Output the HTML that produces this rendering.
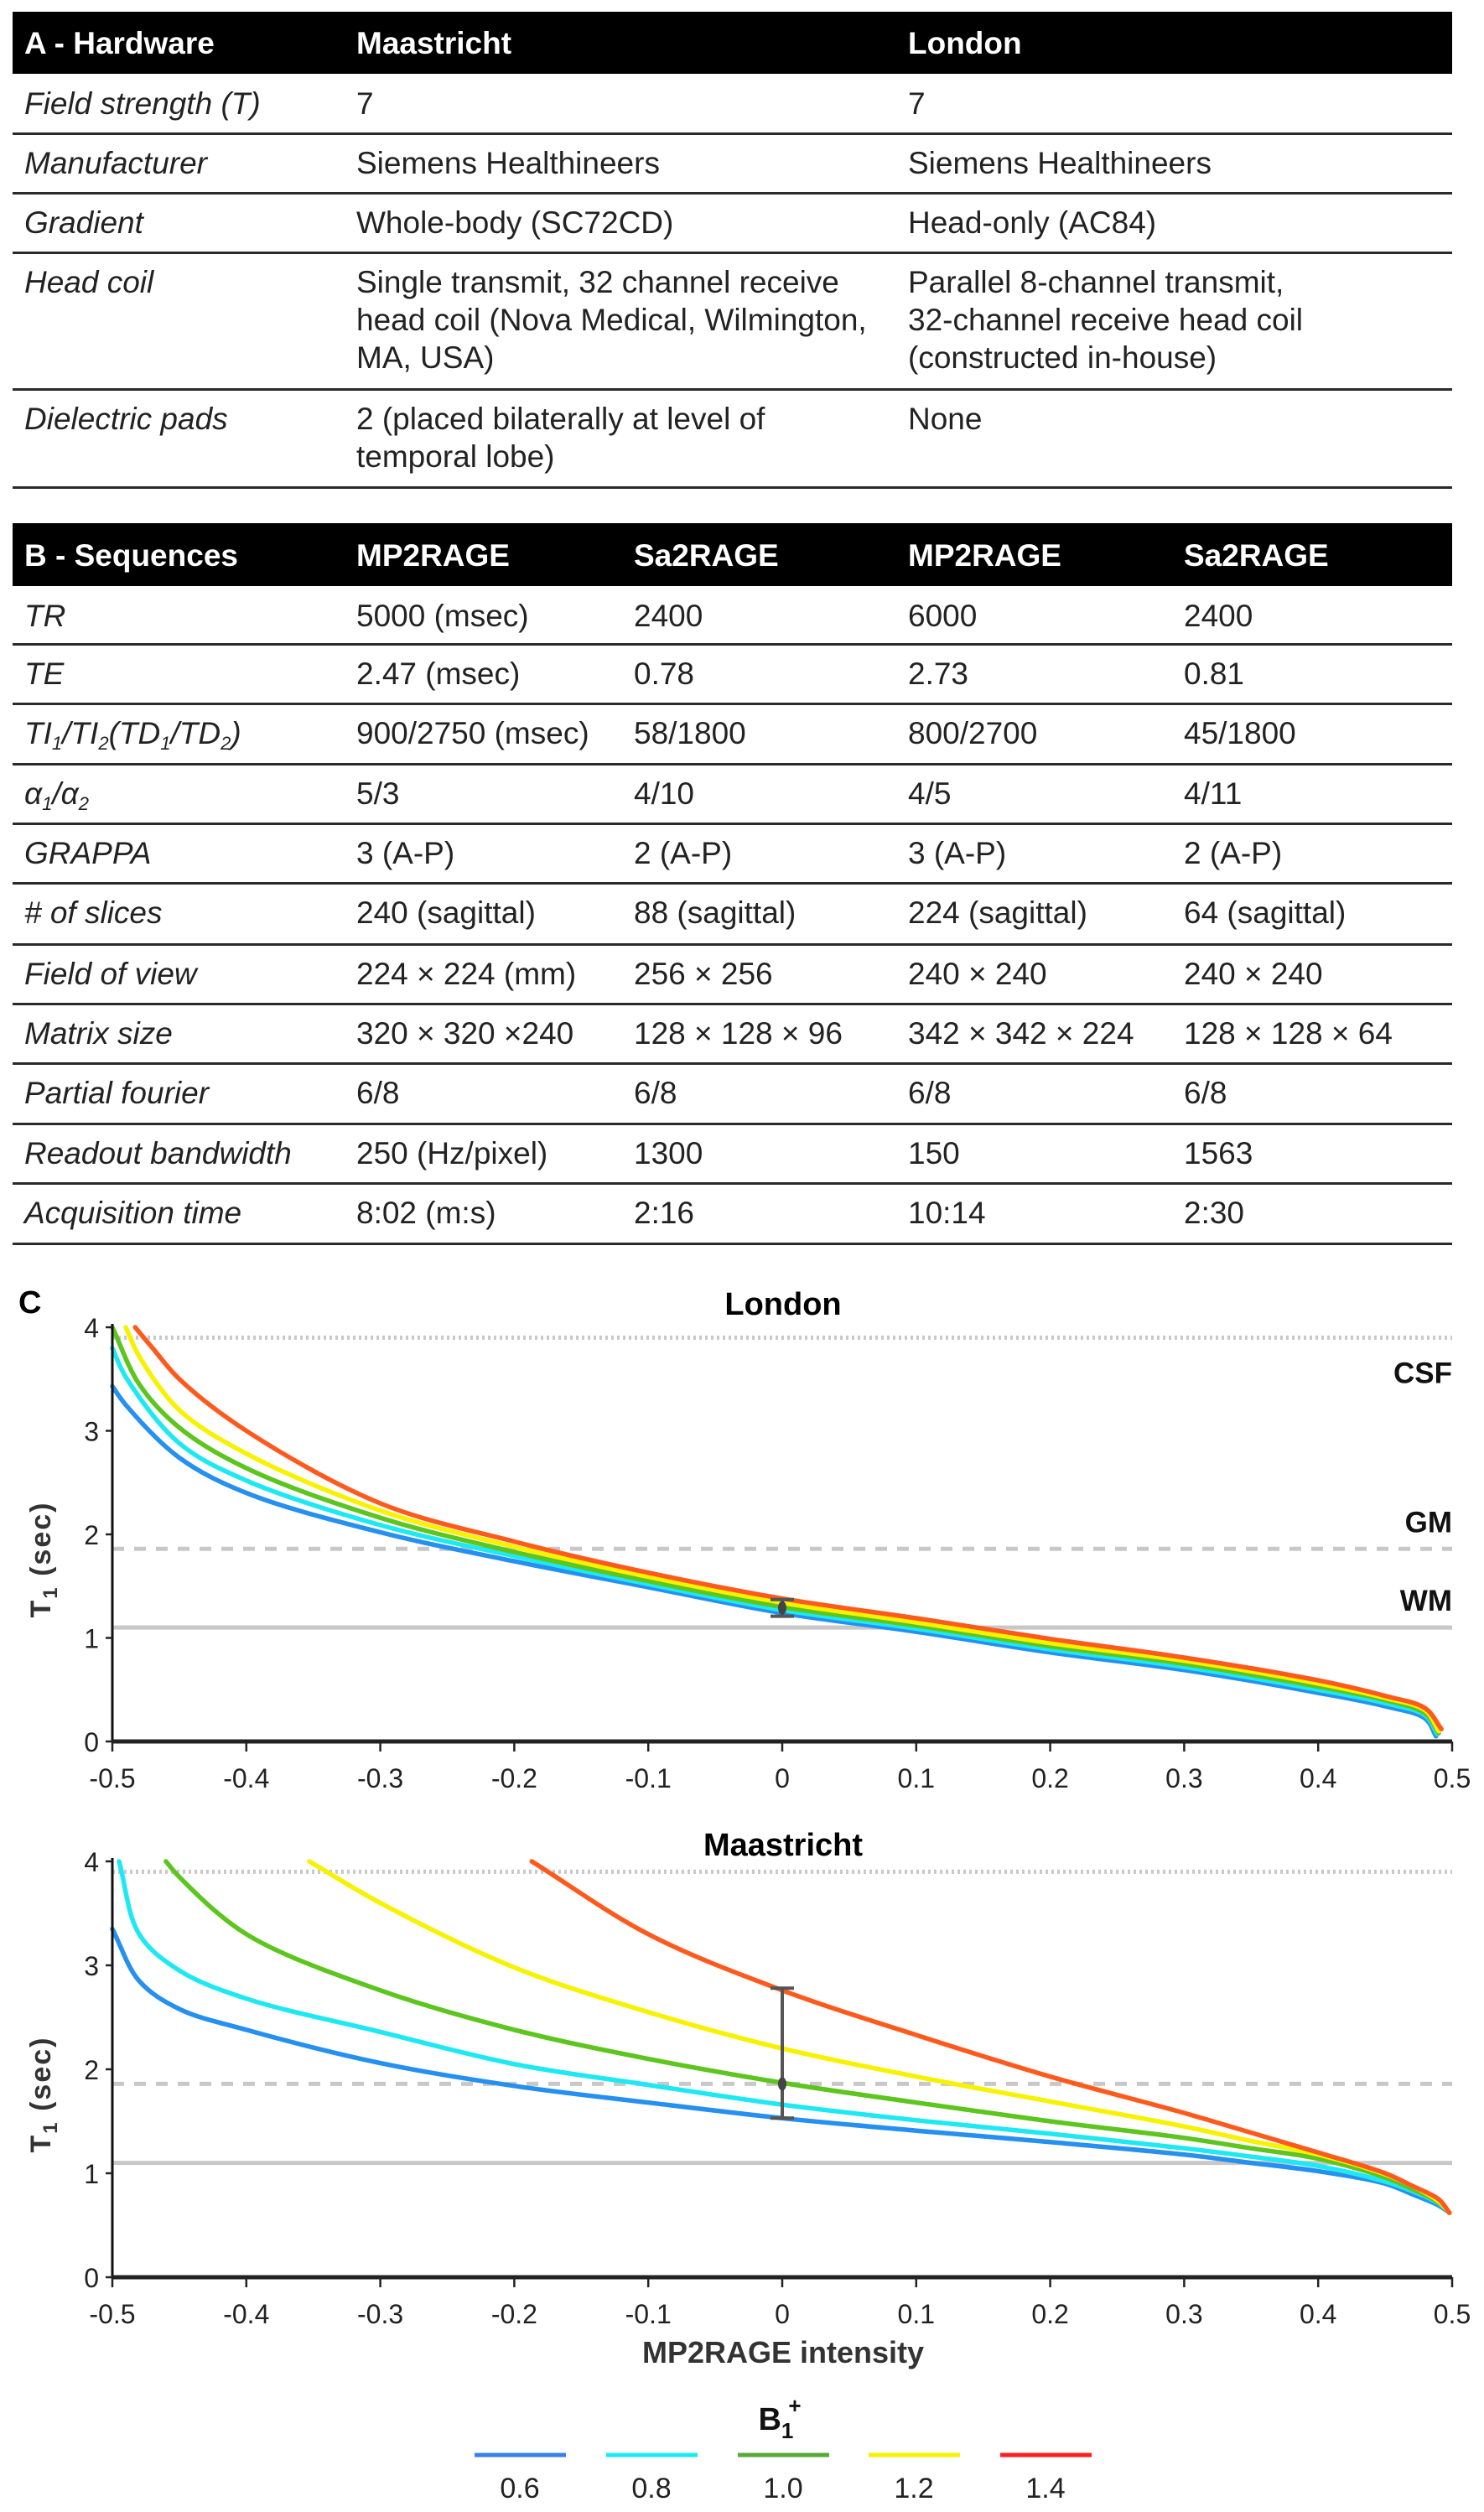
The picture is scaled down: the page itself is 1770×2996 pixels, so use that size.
<!DOCTYPE html>
<html><head><meta charset="utf-8">
<style>
body{margin:0;width:1770px;height:2996px;background:#fff;position:relative;overflow:hidden;font-family:"Liberation Sans",Arial,sans-serif;color:#222}
.hdr{position:absolute;left:15px;width:1717px;background:#000;color:#fff;font-weight:bold;font-size:37px}
.row{position:absolute;left:15px;width:1717px;border-bottom:3px solid #2a2a2a;box-sizing:border-box;font-size:37px;line-height:45px}
.c{position:absolute;white-space:nowrap}
.lab{font-style:italic}
sub{font-size:22px;vertical-align:-7px;line-height:0}
svg{position:absolute;left:0;top:0}
</style></head><body>
<div id="tables"></div>
<svg id="chart" width="1770" height="2996"></svg>
<script>
// ---------- table data ----------
const colsA=[14,410,1068];
const headA=["A - Hardware","Maastricht","London"];
const rowsA=[
 ["Field strength (T)","7","7"],
 ["Manufacturer","Siemens Healthineers","Siemens Healthineers"],
 ["Gradient","Whole-body (SC72CD)","Head-only (AC84)"],
 ["Head coil","Single transmit, 32 channel receive<br>head coil (Nova Medical, Wilmington,<br>MA, USA)","Parallel 8-channel transmit,<br>32-channel receive head coil<br>(constructed in-house)"],
 ["Dielectric pads","2 (placed bilaterally at level of<br>temporal lobe)","None"]];
const rowTopsA=[88,159,230,301,464];
const rowBotA=[159,230,301,464,581];
const colsB=[14,410,741,1068,1397];
const headB=["B - Sequences","MP2RAGE","Sa2RAGE","MP2RAGE","Sa2RAGE"];
const rowsB=[
 ["TR","5000 (msec)","2400","6000","2400"],
 ["TE","2.47 (msec)","0.78","2.73","0.81"],
 ["TI<sub>1</sub>/TI<sub>2</sub>(TD<sub>1</sub>/TD<sub>2</sub>)","900/2750 (msec)","58/1800","800/2700","45/1800"],
 ["α<sub>1</sub>/α<sub>2</sub>","5/3","4/10","4/5","4/11"],
 ["GRAPPA","3 (A-P)","2 (A-P)","3 (A-P)","2 (A-P)"],
 ["# of slices","240 (sagittal)","88 (sagittal)","224 (sagittal)","64 (sagittal)"],
 ["Field of view","224 × 224 (mm)","256 × 256","240 × 240","240 × 240"],
 ["Matrix size","320 × 320 ×240","128 × 128 × 96","342 × 342 × 224","128 × 128 × 64"],
 ["Partial fourier","6/8","6/8","6/8","6/8"],
 ["Readout bandwidth","250 (Hz/pixel)","1300","150","1563"],
 ["Acquisition time","8:02 (m:s)","2:16","10:14","2:30"]];
const bLines=[699,768,839,911,982,1053,1126,1197,1268,1340,1411,1483];

const T=document.getElementById('tables');
function header(top,h,cols,texts,name){
 const d=document.createElement('div');d.className='hdr';
 
 
 d.style.top=top+'px';d.style.height=h+'px';
 texts.forEach((t,i)=>{const s=document.createElement('div');s.className='c';
  
  
  s.style.left=cols[i]+'px';s.style.top=(h/2-22)+'px';s.style.lineHeight='45px';s.innerHTML=t;d.appendChild(s);});
 T.appendChild(d);
}
function row(top,bot,cols,cells){
 const d=document.createElement('div');d.className='row';
 
 
 d.style.top=top+'px';d.style.height=(bot-top+2)+'px';
 cells.forEach((t,i)=>{const s=document.createElement('div');s.className='c'+(i==0?' lab':'');
  
  
  s.style.left=cols[i]+'px';s.style.top='13px';s.innerHTML=t;d.appendChild(s);});
 T.appendChild(d);
}
header(14,74,colsA,headA,'hardware-table-header');
rowsA.forEach((r,i)=>row(rowTopsA[i],rowBotA[i],colsA,r));
header(624,75,colsB,headB,'sequences-table-header');
rowsB.forEach((r,i)=>row(bLines[i],bLines[i+1],colsB,r));

// ---------- chart data ----------
const b1Labels=["0.6","0.8","1.0","1.2","1.4"];
const colors=["#2590f0","#1ee8f2","#5cc51e","#f6f200","#ff5a1e"];
const legendColors=["#3a7fe8","#1ee8f2","#5aa83a","#f6f200","#ff1e1e"];
const xTicks=[-0.5,-0.4,-0.3,-0.2,-0.1,0,0.1,0.2,0.3,0.4,0.5];
const xTickLabels=["-0.5","-0.4","-0.3","-0.2","-0.1","0","0.1","0.2","0.3","0.4","0.5"];
const yTicks=[0,1,2,3,4];
const refLevels=[3.9,1.86,1.1];
const refLabels=["CSF","GM","WM"];
// London
const lonX06=[-0.5,-0.49,-0.45,-0.4,-0.3,-0.2,-0.1,0,0.1,0.2,0.3,0.4,0.45,0.48,0.488];
const lonT06=[3.43,3.25,2.74,2.40,2.02,1.74,1.49,1.24,1.06,0.86,0.69,0.47,0.34,0.22,0.05];
const lonX08=[-0.5,-0.49,-0.45,-0.4,-0.3,-0.2,-0.1,0,0.1,0.2,0.3,0.4,0.45,0.48,0.489];
const lonT08=[3.8,3.52,2.88,2.52,2.09,1.79,1.52,1.27,1.09,0.89,0.72,0.5,0.37,0.25,0.07];
const lonX10=[-0.5,-0.48,-0.45,-0.4,-0.3,-0.2,-0.1,0,0.1,0.2,0.3,0.4,0.45,0.48,0.49];
const lonT10=[4.0,3.45,3.03,2.64,2.16,1.83,1.55,1.30,1.12,0.92,0.75,0.53,0.4,0.27,0.08];
const lonX12=[-0.49,-0.48,-0.45,-0.4,-0.3,-0.2,-0.1,0,0.1,0.2,0.3,0.4,0.45,0.48,0.49];
const lonT12=[4.0,3.72,3.20,2.78,2.23,1.88,1.59,1.34,1.15,0.95,0.78,0.56,0.42,0.3,0.1];
const lonX14=[-0.483,-0.47,-0.45,-0.4,-0.3,-0.2,-0.1,0,0.1,0.2,0.3,0.4,0.45,0.48,0.492];
const lonT14=[4.0,3.8,3.50,3.0,2.30,1.93,1.63,1.38,1.19,0.99,0.81,0.59,0.44,0.32,0.12];
const lonErr=[0,1.29,1.21,1.37];
// Maastricht
const maaX06=[-0.5,-0.48,-0.45,-0.4,-0.3,-0.2,-0.1,0,0.1,0.2,0.3,0.35,0.4,0.45,0.47,0.49,0.498];
const maaT06=[3.35,2.85,2.58,2.38,2.06,1.84,1.68,1.53,1.41,1.30,1.18,1.10,1.02,0.90,0.80,0.69,0.62];
const maaX08=[-0.495,-0.48,-0.45,-0.4,-0.3,-0.2,-0.1,0,0.1,0.2,0.3,0.35,0.4,0.45,0.47,0.49,0.498];
const maaT08=[4.0,3.3,2.95,2.68,2.36,2.05,1.85,1.66,1.51,1.38,1.24,1.16,1.07,0.92,0.83,0.71,0.62];
const maaX10=[-0.46,-0.45,-0.4,-0.3,-0.2,-0.1,0,0.1,0.2,0.3,0.35,0.4,0.45,0.47,0.49,0.498];
const maaT10=[4.0,3.85,3.3,2.76,2.38,2.1,1.87,1.68,1.50,1.34,1.24,1.14,0.96,0.85,0.72,0.62];
const maaX12=[-0.353,-0.3,-0.2,-0.1,0,0.1,0.2,0.3,0.35,0.4,0.45,0.47,0.49,0.498];
const maaT12=[4.0,3.6,2.98,2.55,2.2,1.93,1.69,1.45,1.31,1.18,0.99,0.88,0.73,0.62];
const maaX14=[-0.187,-0.1,0,0.1,0.2,0.3,0.35,0.4,0.45,0.47,0.49,0.498];
const maaT14=[4.0,3.3,2.76,2.33,1.93,1.58,1.39,1.20,1.00,0.88,0.75,0.62];
const maaErr=[0,1.86,1.53,2.78];

const NS='http://www.w3.org/2000/svg';
const S=document.getElementById('chart');
function el(tag,attrs,parent){const e=document.createElementNS(NS,tag);for(const k in attrs)e.setAttribute(k,attrs[k]);(parent||S).appendChild(e);return e;}
function txt(str,attrs,parent){const e=el('text',attrs,parent);e.textContent=str;return e;}
const X0=134,X1=1732;
function sx(v){return X0+(v+0.5)*(X1-X0);}
function dist(a,b){return Math.hypot(a[0]-b[0],a[1]-b[1]);}
function smooth(pts){
 let d='M'+pts[0][0].toFixed(1)+','+pts[0][1].toFixed(1);
 for(let i=0;i<pts.length-1;i++){
  const p1=pts[i],p2=pts[i+1];
  const p0=i>0?pts[i-1]:null, p3=i+2<pts.length?pts[i+2]:null;
  const L12=dist(p1,p2), s12=Math.sqrt(L12);
  let c1,c2;
  if(p0){const L01=dist(p0,p1),s01=Math.sqrt(L01);
   const den=3*s01*(s01+s12);
   c1=[0,1].map(k=>(L01*p2[k]-L12*p0[k]+(2*L01+3*s01*s12+L12)*p1[k])/den);
  } else c1=[p1[0]+(p2[0]-p1[0])/3,p1[1]+(p2[1]-p1[1])/3];
  if(p3){const L23=dist(p2,p3),s23=Math.sqrt(L23);
   const den=3*s23*(s23+s12);
   c2=[0,1].map(k=>(L23*p1[k]-L12*p3[k]+(2*L23+3*s23*s12+L12)*p2[k])/den);
  } else c2=[p2[0]-(p2[0]-p1[0])/3,p2[1]-(p2[1]-p1[1])/3];
  d+='C'+c1[0].toFixed(1)+','+c1[1].toFixed(1)+' '+c2[0].toFixed(1)+','+c2[1].toFixed(1)+' '+p2[0].toFixed(1)+','+p2[1].toFixed(1);
 }
 return d;
}
function panel(name,title,y4,y0,xs,ts,err,showRefLabels,titleY){
 const sy=v=>y0+(y4-y0)*v/4;
 const g=el('g',{});
 
 
 const tt=txt(title,{x:934,y:titleY,'text-anchor':'middle','font-size':38,'font-weight':'bold',fill:'#000'},g);
 
 
 const dashes=['3,4','14,12',''];
 refLevels.forEach((r,i)=>{
  const l=el('line',{x1:X0,x2:X1,y1:sy(r),y2:sy(r),stroke:'#c8c8c8','stroke-width':5,'stroke-dasharray':dashes[i]},g);
  
  
  if(showRefLabels){
   const lt=txt(refLabels[i],{x:X1,y:sy(r)+(i==0?54:-20),'text-anchor':'end','font-size':35,'font-weight':'bold',fill:'#111'},g);
   
   
  }
 });
 xs.forEach((xa,k)=>{
  const pts=xa.map((x,i)=>[sx(x),sy(ts[k][i])]);
  const p=el('path',{d:smooth(pts),fill:'none',stroke:colors[k],'stroke-width':5.5,'stroke-linecap':'round','stroke-linejoin':'round'},g);
  
  
 });
 const ex=sx(err[0]);
 const eb=el('g',{stroke:'#555','stroke-width':4},g);
 
 
 el('line',{x1:ex,x2:ex,y1:sy(err[2]),y2:sy(err[3])},eb);
 el('line',{x1:ex-14,x2:ex+14,y1:sy(err[2]),y2:sy(err[2])},eb);
 el('line',{x1:ex-14,x2:ex+14,y1:sy(err[3]),y2:sy(err[3])},eb);
 el('ellipse',{cx:ex,cy:sy(err[1]),rx:5,ry:8,fill:'#444',stroke:'none'},eb);
 const ya=el('line',{x1:X0,x2:X0,y1:y4-4,y2:y0,stroke:'#111','stroke-width':3},g);
 
 
 const xa=el('line',{x1:X0,x2:X1,y1:y0,y2:y0,stroke:'#222','stroke-width':5},g);
 
 
 xTicks.forEach((v,i)=>{
  el('line',{x1:sx(v),x2:sx(v),y1:y0,y2:y0+12,stroke:'#222','stroke-width':2.5},g);
  const t=txt(xTickLabels[i],{x:sx(v),y:y0+55,'text-anchor':'middle','font-size':32,fill:'#222'},g);
  
  
 });
 yTicks.forEach(v=>{
  el('line',{x1:X0-8,x2:X0,y1:sy(v),y2:sy(v),stroke:'#222','stroke-width':2.5},g);
  const t=txt(String(v),{x:X0-16,y:sy(v)+12,'text-anchor':'end','font-size':32,fill:'#222'},g);
  
  
 });
 const cy=(y4+y0)/2+30;
 const yl=el('text',{x:0,y:0,transform:'translate(60,'+cy+') rotate(-90)','text-anchor':'middle','font-size':34,'font-weight':'bold',fill:'#333','letter-spacing':'2'},g);
 
 
 const a=document.createElementNS(NS,'tspan');a.textContent='T';yl.appendChild(a);
 const b=document.createElementNS(NS,'tspan');b.setAttribute('font-size','24');b.setAttribute('dy','8');b.textContent='1';yl.appendChild(b);
 const c=document.createElementNS(NS,'tspan');c.setAttribute('dy','-8');c.textContent=' (sec)';yl.appendChild(c);
}
const cl=txt('C',{x:22,y:1566,'font-size':38,'font-weight':'bold',fill:'#000'});


panel('london','London',1583,2077,[lonX06,lonX08,lonX10,lonX12,lonX14],[lonT06,lonT08,lonT10,lonT12,lonT14],lonErr,true,1568);
panel('maastricht','Maastricht',2220,2716,[maaX06,maaX08,maaX10,maaX12,maaX14],[maaT06,maaT08,maaT10,maaT12,maaT14],maaErr,false,2213);
const xt=txt('MP2RAGE intensity',{x:934,y:2818,'text-anchor':'middle','font-size':36,'font-weight':'bold',fill:'#333'});


const lg=el('g',{});


const lt=el('text',{x:930,y:2898,'text-anchor':'middle','font-size':38,'font-weight':'bold',fill:'#111'},lg);


const t1=document.createElementNS(NS,'tspan');t1.textContent='B';lt.appendChild(t1);
const t2=document.createElementNS(NS,'tspan');t2.setAttribute('font-size','26');t2.setAttribute('dy','10');t2.textContent='1';lt.appendChild(t2);
const t3=document.createElementNS(NS,'tspan');t3.setAttribute('font-size','26');t3.setAttribute('dy','-30');t3.setAttribute('dx','-6');t3.textContent='+';lt.appendChild(t3);
const legX=[566,723,880,1036,1193];
b1Labels.forEach((lab,i)=>{
 const e=el('g',{},lg);
 
 
 el('line',{x1:legX[i],x2:legX[i]+109,y1:2928,y2:2928,stroke:legendColors[i],'stroke-width':5},e);
 txt(lab,{x:legX[i]+54,y:2979,'text-anchor':'middle','font-size':34,fill:'#222'},e);
});
</script>
</body></html>
